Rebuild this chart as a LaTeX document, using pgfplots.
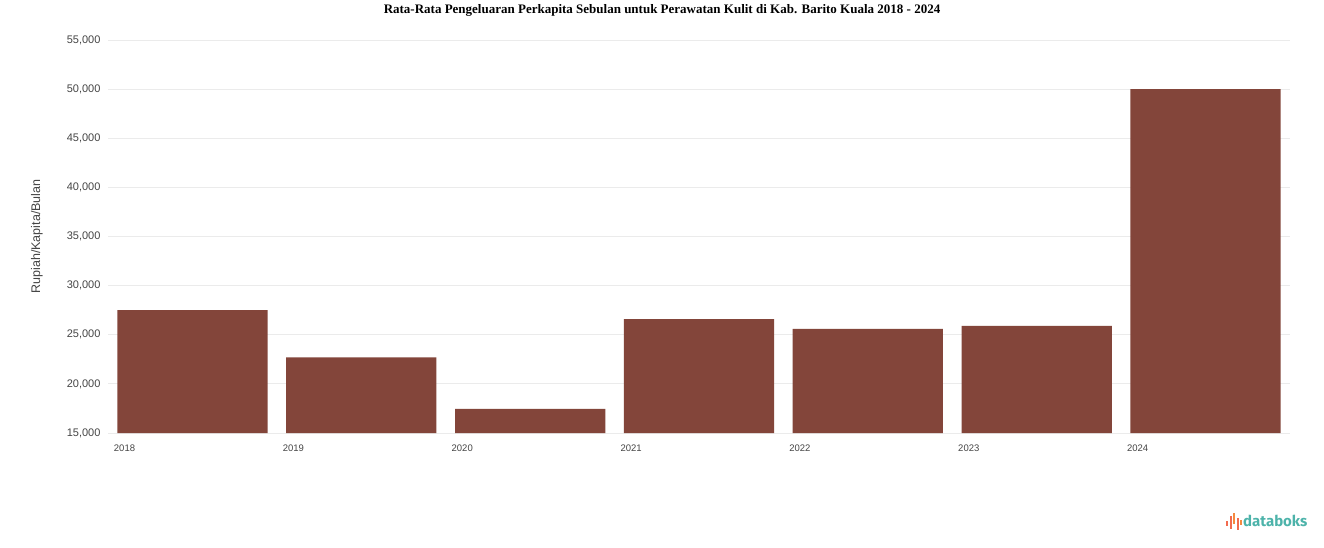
\documentclass[border=0pt]{standalone}
\usepackage{fontspec}
\setmainfont{Liberation Serif}
\setsansfont{Liberation Sans}
\newfontfamily\logofont{Fira Sans}
\usepackage{pgfplots}
\pgfplotsset{compat=1.18}
\definecolor{barcol}{HTML}{83453A}
\definecolor{gridcol}{HTML}{EBEBEB}
\definecolor{ticklab}{HTML}{444444}
\definecolor{logoteal}{HTML}{4DB3AA}
\definecolor{logoorange}{HTML}{F26B4F}
\begin{document}
\begin{tikzpicture}[x=1pt,y=1pt]
\path[use as bounding box] (0,0) rectangle (1324,547);
\node[font=\fontsize{13}{15}\selectfont\bfseries] at (662,537) {Rata-Rata Pengeluaran Perkapita Sebulan untuk Perawatan Kulit di Kab. Barito Kuala 2018 - 2024};
\begin{axis}[
    at={(108pt,114pt)}, anchor=south west,
    scale only axis,
    width=1182pt, height=393pt,
    xmin=-0.5, xmax=6.5,
    ymin=15000, ymax=55000,
    ytick={15000,20000,...,55000},
    scaled y ticks=false,
    xtick={0,...,6},
    xticklabels={2018,2019,2020,2021,2022,2023,2024},
    axis line style={draw=none},
    major tick length=0pt,
    ymajorgrids,
    grid style={gridcol, line width=0.8pt},
    yticklabel={\pgfmathprintnumber[fixed, precision=0, 1000 sep={,}, assume math mode=true]{\tick}},
    yticklabel style={font=\sffamily\fontsize{11}{12}\selectfont, text=ticklab, xshift=-4pt},
    xticklabel style={font=\sffamily\fontsize{9.5}{11}\selectfont, text=ticklab, anchor=north west, xshift=-82pt, yshift=-8pt},
    ylabel={Rupiah/Kapita/Bulan},
    ylabel style={font=\sffamily\fontsize{12.5}{14}\selectfont, text=ticklab, at={(axis description cs:0,0.5)}, anchor=center, yshift=71pt},
]
\addplot[ybar, bar width=0.89, fill=barcol, draw=none, bar shift=0pt] coordinates {
(0,27500) (1,22700) (2,17450) (3,26600) (4,25600) (5,25900) (6,50000)};
\end{axis}
% databoks logo
\begin{scope}[shift={(1226,21)}]
\fill[logoorange] (0,0) rectangle (2,5);
\fill[logoorange] (3.5,-3) rectangle (5.5,10);
\fill[logoorange!80!yellow] (7,2) rectangle (9,13);
\fill[logoorange] (10.5,-4) rectangle (12.5,8);
\fill[logoorange!80!yellow] (14,1) rectangle (16,6);
\end{scope}
\node[anchor=west, font=\logofont\fontsize{15}{17}\selectfont\bfseries, text=logoteal, inner sep=0pt] at (1243,26) {databoks};
\end{tikzpicture}
\end{document}
